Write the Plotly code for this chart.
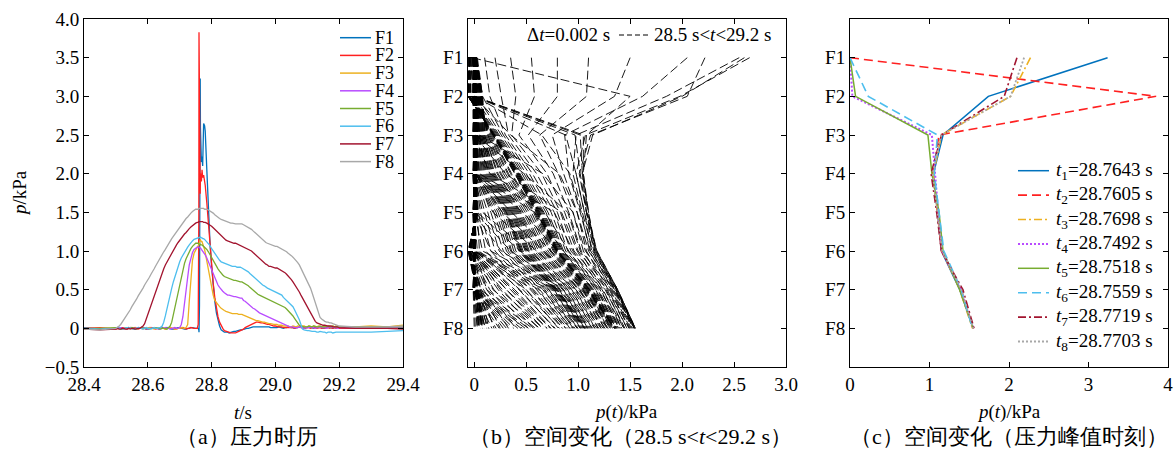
import numpy as np
import plotly.graph_objects as go

# ---------------- data ----------------
TIME = [28.40, 28.45,
        28.500, 28.505, 28.510, 28.515, 28.520, 28.525, 28.530, 28.535, 28.540, 28.545,
        28.550, 28.555, 28.560, 28.565, 28.570, 28.575, 28.580, 28.585, 28.590, 28.595,
        28.600, 28.605, 28.610, 28.615, 28.620, 28.625, 28.630, 28.635, 28.640, 28.645,
        28.650, 28.655, 28.660, 28.665, 28.670, 28.675, 28.680, 28.685, 28.690, 28.695,
        28.700, 28.705, 28.710, 28.715, 28.720, 28.725, 28.730, 28.735, 28.740, 28.745,
        28.750, 28.755, 28.758, 28.760, 28.7605, 28.762, 28.7643, 28.765, 28.768, 28.770,
        28.772, 28.775, 28.778, 28.780, 28.785, 28.790, 28.795,
        28.800, 28.805, 28.810, 28.815, 28.820, 28.825, 28.830, 28.835, 28.840, 28.845,
        28.850, 28.855, 28.860, 28.865, 28.870, 28.875, 28.880, 28.885, 28.890, 28.895,
        28.900, 28.905, 28.910, 28.915, 28.920, 28.925, 28.930, 28.935, 28.940, 28.945,
        28.950, 28.955, 28.960, 28.965, 28.970, 28.975, 28.980, 28.985, 28.990, 28.995,
        29.000, 29.005, 29.010, 29.015, 29.020, 29.025, 29.030, 29.035, 29.040, 29.045,
        29.050, 29.055, 29.060, 29.065, 29.070, 29.075, 29.080, 29.085, 29.090, 29.095,
        29.100, 29.105, 29.110, 29.115, 29.120, 29.125, 29.130, 29.135, 29.140, 29.145,
        29.150, 29.155, 29.160, 29.165, 29.170, 29.175, 29.180, 29.185, 29.190, 29.195,
        29.200, 29.25, 29.30, 29.35, 29.40]

F1 = [0.01, -0.01,
      0.00, 0.01, 0.01, 0.00, -0.01, 0.00, 0.00, 0.01, 0.01, 0.00,
      0.00, -0.01, -0.01, 0.00, 0.00, 0.01, 0.01, 0.00, 0.00, -0.01,
      -0.01, 0.00, 0.00, 0.01, 0.01, 0.00, 0.00, -0.01, 0.00, 0.01,
      0.00, 0.00, 0.01, 0.00, 0.00, -0.01, -0.01, 0.00, 0.00, 0.01,
      0.01, 0.00, 0.00, -0.01, -0.01, 0.00, 0.00, 0.01, 0.01, 0.00,
      0.00, 0.00, 0.00, -0.02, -0.05, 0.30, 3.23, 2.60, 2.15, 2.22,
      2.10, 2.65, 2.62, 2.55, 2.05, 1.50, 1.10,
      0.80, 0.55, 0.35, 0.20, 0.10, 0.03, -0.02, -0.04, -0.05, -0.05,
      -0.05, -0.06, -0.05, -0.05, -0.04, -0.04, -0.03, -0.03, -0.02, -0.02,
      -0.01, -0.01, 0.00, 0.00, 0.01, 0.01, 0.02, 0.02, 0.02, 0.02,
      0.02, 0.02, 0.02, 0.02, 0.02, 0.02, 0.02, 0.01, 0.01, 0.01,
      0.01, 0.01, 0.02, 0.01, 0.01, 0.00, 0.01, 0.01, 0.02, 0.01,
      0.01, 0.01, 0.00, 0.01, 0.01, 0.02, 0.01, 0.01, 0.00, 0.01,
      0.01, 0.02, 0.01, 0.01, 0.00, 0.01, 0.01, 0.02, 0.01, 0.01,
      0.00, 0.01, 0.01, 0.02, 0.01, 0.01, 0.00, 0.01, 0.01, 0.02,
      0.01, 0.01, 0.01, 0.01, 0.01]

F2 = [0.00, 0.01,
      -0.01, 0.00, 0.00, 0.01, 0.01, 0.00, -0.01, -0.01, 0.00, 0.01,
      0.00, 0.00, 0.01, 0.00, -0.01, 0.00, 0.00, 0.01, 0.00, -0.01,
      0.00, 0.01, 0.01, 0.00, 0.00, -0.01, 0.00, 0.00, 0.01, 0.00,
      0.00, -0.01, 0.00, 0.01, 0.01, 0.00, 0.00, -0.01, 0.00, 0.00,
      0.00, 0.01, 0.01, 0.00, -0.01, 0.00, 0.00, 0.01, 0.00, 0.00,
      0.00, 0.00, 0.05, 1.50, 3.83, 2.30, 1.74, 2.00, 1.90, 2.05,
      1.95, 1.98, 1.90, 1.85, 1.62, 1.35, 1.08,
      0.80, 0.58, 0.40, 0.26, 0.15, 0.08, 0.03, 0.00, -0.03, -0.04,
      -0.05, -0.06, -0.06, -0.06, -0.06, -0.06, -0.05, -0.04, -0.04, -0.02,
      -0.01, 0.01, 0.02, 0.04, 0.05, 0.06, 0.07, 0.07, 0.08, 0.08,
      0.07, 0.07, 0.07, 0.06, 0.06, 0.05, 0.05, 0.04, 0.04, 0.03,
      0.03, 0.02, 0.02, 0.02, 0.02, 0.01, 0.01, 0.01, 0.01, 0.01,
      0.01, 0.01, 0.00, 0.01, 0.01, 0.02, 0.01, 0.01, 0.00, 0.01,
      0.01, 0.01, 0.00, 0.01, 0.01, 0.01, 0.00, 0.01, 0.01, 0.00,
      0.01, 0.00, 0.01, 0.01, 0.00, 0.01, 0.00, 0.01, 0.00, 0.01,
      0.00, 0.00, 0.00, 0.00, 0.00]

F3 = [-0.01, 0.00,
      0.00, 0.01, 0.01, 0.00, -0.01, -0.01, 0.00, 0.00, 0.01, 0.00,
      0.00, -0.01, 0.00, 0.00, 0.01, 0.01, 0.00, -0.01, 0.00, 0.00,
      0.00, 0.01, 0.00, 0.00, -0.01, 0.00, 0.00, 0.01, 0.01, 0.00,
      0.00, -0.01, 0.00, 0.00, 0.01, 0.00, 0.00, -0.01, -0.01, 0.00,
      0.00, 0.01, 0.00, 0.00, 0.01, 0.05, 0.35, 0.65, 0.88, 0.97,
      1.02, 1.05, 1.07, 1.08, 1.08, 1.10, 1.15, 1.14, 1.12, 1.12,
      1.10, 1.07, 1.02, 0.98, 0.87, 0.75, 0.63,
      0.52, 0.43, 0.36, 0.33, 0.30, 0.28, 0.26, 0.24, 0.23, 0.22,
      0.21, 0.20, 0.20, 0.19, 0.19, 0.19, 0.19, 0.18, 0.18, 0.18,
      0.17, 0.16, 0.15, 0.14, 0.13, 0.13, 0.12, 0.11, 0.10, 0.10,
      0.09, 0.09, 0.08, 0.08, 0.07, 0.07, 0.06, 0.06, 0.05, 0.05,
      0.05, 0.05, 0.04, 0.04, 0.04, 0.03, 0.03, 0.03, 0.03, 0.02,
      0.02, 0.03, 0.02, 0.02, 0.03, 0.02, 0.02, 0.03, 0.03, 0.02,
      0.02, 0.03, 0.02, 0.02, 0.03, 0.02, 0.02, 0.03, 0.02, 0.02,
      0.03, 0.02, 0.02, 0.03, 0.02, 0.02, 0.03, 0.02, 0.03, 0.02,
      0.02, 0.02, 0.03, 0.02, 0.04]

F4 = [0.00, -0.01,
      0.00, 0.00, 0.01, 0.01, 0.00, -0.01, 0.00, 0.00, 0.01, 0.00,
      0.00, 0.00, -0.01, 0.00, 0.01, 0.00, 0.00, 0.01, 0.00, -0.01,
      -0.01, 0.00, 0.00, 0.01, 0.01, 0.00, 0.00, -0.01, 0.00, 0.00,
      0.00, 0.01, 0.00, 0.00, -0.01, 0.00, 0.00, 0.01, 0.00, 0.00,
      0.01, 0.05, 0.15, 0.30, 0.48, 0.66, 0.82, 0.92, 0.98, 1.02,
      1.04, 1.05, 1.05, 1.05, 1.05, 1.04, 1.04, 1.04, 1.02, 1.01,
      1.00, 0.98, 0.96, 0.95, 0.91, 0.86, 0.81,
      0.76, 0.70, 0.65, 0.60, 0.56, 0.53, 0.50, 0.48, 0.46, 0.44,
      0.43, 0.43, 0.42, 0.42, 0.41, 0.41, 0.40, 0.40, 0.39, 0.39,
      0.36, 0.35, 0.33, 0.32, 0.30, 0.28, 0.26, 0.25, 0.23, 0.22,
      0.20, 0.19, 0.18, 0.17, 0.16, 0.15, 0.14, 0.13, 0.12, 0.11,
      0.10, 0.09, 0.08, 0.07, 0.06, 0.05, 0.04, 0.03, 0.03, 0.02,
      0.02, 0.02, 0.01, 0.01, 0.01, 0.02, 0.01, 0.01, 0.00, 0.01,
      0.01, 0.01, 0.02, 0.01, 0.01, 0.00, 0.01, 0.01, 0.02, 0.01,
      0.01, 0.01, 0.00, 0.01, 0.01, 0.02, 0.01, 0.01, 0.01, 0.00,
      0.01, 0.01, 0.01, 0.01, 0.01]

F5 = [0.00, 0.00,
      0.01, 0.00, 0.00, -0.01, -0.01, 0.00, 0.00, 0.01, 0.01, 0.00,
      0.01, 0.00, 0.00, -0.01, 0.00, 0.00, 0.01, 0.00, 0.00, 0.00,
      0.00, -0.01, 0.00, 0.00, 0.01, 0.01, 0.00, 0.00, -0.01, 0.00,
      0.00, 0.00, -0.01, 0.01, 0.03, 0.08, 0.18, 0.27, 0.36, 0.47,
      0.58, 0.68, 0.77, 0.84, 0.90, 0.95, 0.99, 1.03, 1.06, 1.08,
      1.10, 1.10, 1.10, 1.09, 1.09, 1.09, 1.09, 1.08, 1.08, 1.08,
      1.07, 1.06, 1.05, 1.04, 1.02, 0.99, 0.95,
      0.91, 0.87, 0.83, 0.80, 0.77, 0.74, 0.71, 0.69, 0.67, 0.66,
      0.65, 0.64, 0.63, 0.63, 0.62, 0.62, 0.61, 0.61, 0.60, 0.60,
      0.59, 0.58, 0.57, 0.55, 0.53, 0.51, 0.49, 0.47, 0.45, 0.44,
      0.43, 0.42, 0.41, 0.40, 0.39, 0.38, 0.37, 0.36, 0.35, 0.34,
      0.33, 0.32, 0.31, 0.31, 0.30, 0.29, 0.27, 0.25, 0.23, 0.21,
      0.19, 0.16, 0.13, 0.10, 0.06, 0.04, 0.03, 0.02, 0.02, 0.02,
      0.02, 0.03, 0.02, 0.02, 0.03, 0.02, 0.02, 0.02, 0.03, 0.02,
      0.02, 0.02, 0.03, 0.02, 0.02, 0.02, 0.03, 0.02, 0.02, 0.02,
      0.02, 0.02, 0.02, 0.02, 0.02]

F6 = [0.00, -0.01,
      0.00, 0.01, 0.00, 0.00, -0.01, 0.00, 0.00, 0.01, 0.01, 0.00,
      0.00, -0.01, 0.00, 0.00, 0.01, 0.00, 0.00, -0.01, 0.00, 0.01,
      0.00, 0.00, -0.01, 0.00, 0.01, 0.00, 0.00, 0.01, 0.01, 0.03,
      0.08, 0.16, 0.26, 0.35, 0.44, 0.52, 0.60, 0.67, 0.74, 0.80,
      0.86, 0.91, 0.95, 0.99, 1.02, 1.05, 1.08, 1.11, 1.13, 1.15,
      1.16, 1.17, 1.17, 1.18, 1.18, 1.18, 1.18, 1.18, 1.17, 1.17,
      1.16, 1.16, 1.15, 1.14, 1.12, 1.10, 1.07,
      1.03, 1.00, 0.96, 0.93, 0.90, 0.88, 0.86, 0.85, 0.84, 0.83,
      0.82, 0.81, 0.81, 0.80, 0.80, 0.80, 0.79, 0.79, 0.79, 0.78,
      0.77, 0.76, 0.74, 0.73, 0.71, 0.69, 0.67, 0.66, 0.64, 0.62,
      0.60, 0.58, 0.56, 0.55, 0.53, 0.52, 0.51, 0.50, 0.49, 0.47,
      0.46, 0.45, 0.45, 0.44, 0.43, 0.40, 0.38, 0.36, 0.35, 0.33,
      0.31, 0.28, 0.24, 0.20, 0.16, 0.11, 0.05, -0.01, -0.02, -0.03,
      -0.03, -0.03, -0.04, -0.04, -0.04, -0.04, -0.05, -0.05, -0.04, -0.05,
      -0.05, -0.05, -0.06, -0.05, -0.05, -0.05, -0.06, -0.05, -0.05, -0.05,
      -0.05, -0.05, -0.05, -0.04, -0.03]

F7 = [-0.01, -0.02,
      -0.01, 0.00, -0.01, -0.01, 0.00, 0.00, -0.01, -0.01, 0.00, -0.01,
      0.00, 0.00, -0.01, 0.00, 0.00, 0.00, 0.01, 0.03, 0.06, 0.12,
      0.18, 0.25, 0.31, 0.37, 0.44, 0.50, 0.56, 0.62, 0.67, 0.72,
      0.77, 0.82, 0.86, 0.90, 0.94, 0.98, 1.02, 1.05, 1.08, 1.11,
      1.14, 1.17, 1.19, 1.22, 1.24, 1.27, 1.29, 1.31, 1.33, 1.35,
      1.36, 1.37, 1.37, 1.38, 1.38, 1.38, 1.38, 1.38, 1.38, 1.38,
      1.38, 1.37, 1.37, 1.37, 1.36, 1.35, 1.34,
      1.32, 1.30, 1.28, 1.26, 1.23, 1.21, 1.19, 1.17, 1.15, 1.14,
      1.13, 1.12, 1.11, 1.11, 1.10, 1.10, 1.09, 1.09, 1.08, 1.07,
      1.06, 1.05, 1.04, 1.03, 1.01, 1.00, 0.98, 0.96, 0.94, 0.92,
      0.90, 0.88, 0.86, 0.85, 0.83, 0.82, 0.80, 0.80, 0.79, 0.79,
      0.78, 0.78, 0.77, 0.76, 0.75, 0.74, 0.72, 0.70, 0.68, 0.66,
      0.63, 0.60, 0.57, 0.54, 0.50, 0.47, 0.43, 0.39, 0.35, 0.31,
      0.27, 0.23, 0.19, 0.15, 0.12, 0.09, 0.07, 0.06, 0.06, 0.05,
      0.04, 0.04, 0.03, 0.03, 0.03, 0.03, 0.02, 0.02, 0.02, 0.02,
      0.01, 0.00, 0.00, 0.00, -0.01]

F8 = [-0.01, -0.02,
      0.00, 0.01, 0.03, 0.05, 0.08, 0.11, 0.14, 0.17, 0.21, 0.24,
      0.28, 0.31, 0.35, 0.38, 0.42, 0.45, 0.49, 0.52, 0.56, 0.59,
      0.63, 0.66, 0.70, 0.73, 0.77, 0.81, 0.85, 0.88, 0.92, 0.95,
      0.99, 1.02, 1.06, 1.09, 1.13, 1.16, 1.19, 1.22, 1.25, 1.28,
      1.31, 1.33, 1.36, 1.39, 1.42, 1.44, 1.47, 1.49, 1.51, 1.53,
      1.54, 1.54, 1.54, 1.55, 1.55, 1.55, 1.55, 1.55, 1.55, 1.55,
      1.55, 1.55, 1.54, 1.54, 1.54, 1.53, 1.52,
      1.50, 1.49, 1.47, 1.45, 1.44, 1.42, 1.41, 1.40, 1.39, 1.38,
      1.37, 1.37, 1.36, 1.36, 1.35, 1.35, 1.35, 1.35, 1.35, 1.35,
      1.34, 1.33, 1.32, 1.31, 1.29, 1.28, 1.26, 1.24, 1.22, 1.20,
      1.18, 1.16, 1.14, 1.12, 1.11, 1.10, 1.09, 1.08, 1.07, 1.07,
      1.06, 1.06, 1.05, 1.04, 1.03, 1.02, 1.00, 0.99, 0.97, 0.96,
      0.94, 0.92, 0.90, 0.88, 0.85, 0.82, 0.78, 0.74, 0.70, 0.66,
      0.62, 0.57, 0.52, 0.46, 0.40, 0.33, 0.25, 0.19, 0.14, 0.12,
      0.10, 0.09, 0.08, 0.08, 0.07, 0.07, 0.06, 0.05, 0.04, 0.04,
      0.03, 0.02, 0.02, 0.02, 0.03]

SENSORS = ["F1", "F2", "F3", "F4", "F5", "F6", "F7", "F8"]
SERIES = [F1, F2, F3, F4, F5, F6, F7, F8]
for s in SERIES:
    assert len(s) == len(TIME), (len(s), len(TIME))

# panel (c): pressure profiles at the peak instants
PEAK_TIMES = ["28.7643", "28.7605", "28.7698", "28.7492",
              "28.7518", "28.7559", "28.7719", "28.7703"]
PROF_T1 = [3.24, 1.74, 1.17, 1.05, 1.10, 1.15, 1.38, 1.55]
PROF_T2 = [0.00, 3.85, 1.12, 1.04, 1.10, 1.15, 1.40, 1.55]
PROF_T3 = [2.27, 2.02, 1.15, 1.05, 1.10, 1.16, 1.38, 1.54]
PROF_T4 = [0.00, 0.03, 1.03, 1.07, 1.11, 1.16, 1.39, 1.55]
PROF_T5 = [0.00, 0.07, 0.98, 1.03, 1.12, 1.17, 1.38, 1.55]
PROF_T6 = [0.00, 0.23, 1.10, 1.06, 1.12, 1.18, 1.40, 1.54]
PROF_T7 = [2.10, 1.94, 1.15, 1.02, 1.09, 1.15, 1.42, 1.56]
PROF_T8 = [2.19, 2.02, 1.15, 1.04, 1.10, 1.16, 1.40, 1.55]
PROFILES = [PROF_T1, PROF_T2, PROF_T3, PROF_T4, PROF_T5, PROF_T6, PROF_T7, PROF_T8]

# ---------------- styles ----------------
COLORS = ["#0072BD", "#FF2020", "#EDB120", "#B94CFF",
          "#77AC30", "#4DBEEE", "#A2142F", "#A8A8A8"]
C_DASH = ["solid", "9px,5px", "8px,3px,2px,3px", "2px,2px",
          "solid", "9px,5px", "8px,3px,2px,3px", "2px,2px"]
C_WIDTH = [1.5, 1.6, 1.6, 2.0, 1.5, 1.6, 1.6, 1.8]

W, H = 1176, 456
SERIF = "Liberation Serif"
CAPFONT = "Liberation Serif"
FS = 19

def px(x):
    return x / W

def py(y):
    return 1 - y / H

fig = go.Figure()

# panel (a)
for name, s, c in zip(SENSORS, SERIES, COLORS):
    fig.add_trace(go.Scatter(x=TIME, y=s, mode="lines", name=name,
                             line=dict(color=c, width=1.3),
                             xaxis="x", yaxis="y", showlegend=False))

# panel (b): spatial profiles at each regularly sampled instant, 28.5 s < t < 29.2 s
t_arr = np.array(TIME)
mask = (t_arr >= 28.5 - 1e-9) & (t_arr <= 29.2 + 1e-9) & \
       (np.abs(t_arr * 200 - np.round(t_arr * 200)) < 1e-6)
ypos = list(range(1, len(SENSORS) + 1))
for i in np.where(mask)[0]:
    fig.add_trace(go.Scatter(x=[s[i] for s in SERIES], y=ypos, mode="lines",
                             line=dict(color="black", width=0.9, dash="9px,4px"),
                             xaxis="x2", yaxis="y2", showlegend=False))

# panel (c)
for k, prof in enumerate(PROFILES):
    fig.add_trace(go.Scatter(x=prof, y=ypos, mode="lines",
                             line=dict(color=COLORS[k], width=C_WIDTH[k], dash=C_DASH[k]),
                             xaxis="x3", yaxis="y3", showlegend=False))

axis_common = dict(showline=True, linecolor="black", linewidth=1, mirror="ticks",
                   ticks="inside", ticklen=5, tickcolor="black", showgrid=False,
                   zeroline=False, automargin=False,
                   tickfont=dict(family=SERIF, size=FS, color="black"))

ydom = [py(367), py(19)]
xa = [28.4, 28.6, 28.8, 29.0, 29.2, 29.4]
ya = [-0.5, 0, 0.5, 1.0, 1.5, 2.0, 2.5, 3.0, 3.5, 4.0]
xb = [0, 0.5, 1.0, 1.5, 2.0, 2.5, 3.0]
xc = [0, 1, 2, 3, 4]

fig.update_layout(
    width=W, height=H, autosize=False,
    margin=dict(l=0, r=0, t=0, b=0, pad=0, autoexpand=False),
    paper_bgcolor="white", plot_bgcolor="white",
    font=dict(family=SERIF, size=FS, color="black"),
    xaxis=dict(axis_common, domain=[px(84), px(403)], range=[28.4, 29.4],
               tickvals=xa, ticktext=[f"{v:.1f}" for v in xa]),
    yaxis=dict(axis_common, domain=ydom, range=[-0.5, 4.0], tickvals=ya,
               ticktext=["\u22120.5", "0", "0.5", "1.0", "1.5", "2.0", "2.5", "3.0", "3.5", "4.0"]),
    xaxis2=dict(axis_common, domain=[px(468), px(786)], range=[-0.06, 3.0], anchor="y2",
                tickvals=xb, ticktext=["0", "0.5", "1.0", "1.5", "2.0", "2.5", "3.0"]),
    yaxis2=dict(axis_common, domain=ydom, range=[9, 0], anchor="x2",
                tickvals=ypos, ticktext=SENSORS),
    xaxis3=dict(axis_common, domain=[px(850), px(1168)], range=[0, 4], anchor="y3",
                tickvals=xc, ticktext=[str(v) for v in xc]),
    yaxis3=dict(axis_common, domain=ydom, range=[9, 0], anchor="x3",
                tickvals=ypos, ticktext=SENSORS),
)

ann = []
shapes = []

def text(x, y, s, size=FS, family=SERIF, xanchor="center", angle=0):
    ann.append(dict(x=px(x), y=py(y), xref="paper", yref="paper", text=s,
                    showarrow=False, xanchor=xanchor, yanchor="middle", textangle=angle,
                    font=dict(family=family, size=size, color="black")))

# axis titles
text(19, 193, "<i>p</i>/kPa", angle=-90)
text(243, 412, "<i>t</i>/s")
text(626, 412, "<i>p</i>(<i>t</i>)/kPa")
text(1009, 412, "<i>p</i>(<i>t</i>)/kPa")

# captions
text(247, 436, "（a）压力时历", size=22, family=CAPFONT)
text(630, 436, "（b）空间变化（28.5 s&lt;<i>t</i>&lt;29.2 s）", size=22, family=CAPFONT)
text(1009, 436, "（c）空间变化（压力峰值时刻）", size=22, family=CAPFONT)

# legend panel (a)
for i, (name, c) in enumerate(zip(SENSORS, COLORS)):
    yy = 37.7 + 17.7 * i
    shapes.append(dict(type="line", xref="paper", yref="paper",
                       x0=px(340), x1=px(371), y0=py(yy), y1=py(yy),
                       line=dict(color=c, width=1.5)))
    text(373, yy, name, size=18, xanchor="left")

# label panel (b)
text(612, 35, "Δ<i>t</i>=0.002 s", xanchor="right")
shapes.append(dict(type="line", xref="paper", yref="paper",
                   x0=px(619), x1=px(650), y0=py(35), y1=py(35),
                   line=dict(color="black", width=1, dash="5px,3px")))
text(652, 35, "28.5 s&lt;<i>t</i>&lt;29.2 s", xanchor="left")

# legend panel (c)
for k, tlab in enumerate(PEAK_TIMES):
    yy = 170.7 + 24.4 * k
    shapes.append(dict(type="line", xref="paper", yref="paper",
                       x0=px(1018), x1=px(1049), y0=py(yy), y1=py(yy),
                       line=dict(color=COLORS[k], width=C_WIDTH[k], dash=C_DASH[k])))
    text(1054, yy, f"<i>t</i><sub>{k + 1}</sub>={tlab} s", xanchor="left")

fig.update_layout(annotations=ann, shapes=shapes)
fig.write_html("out.html")
